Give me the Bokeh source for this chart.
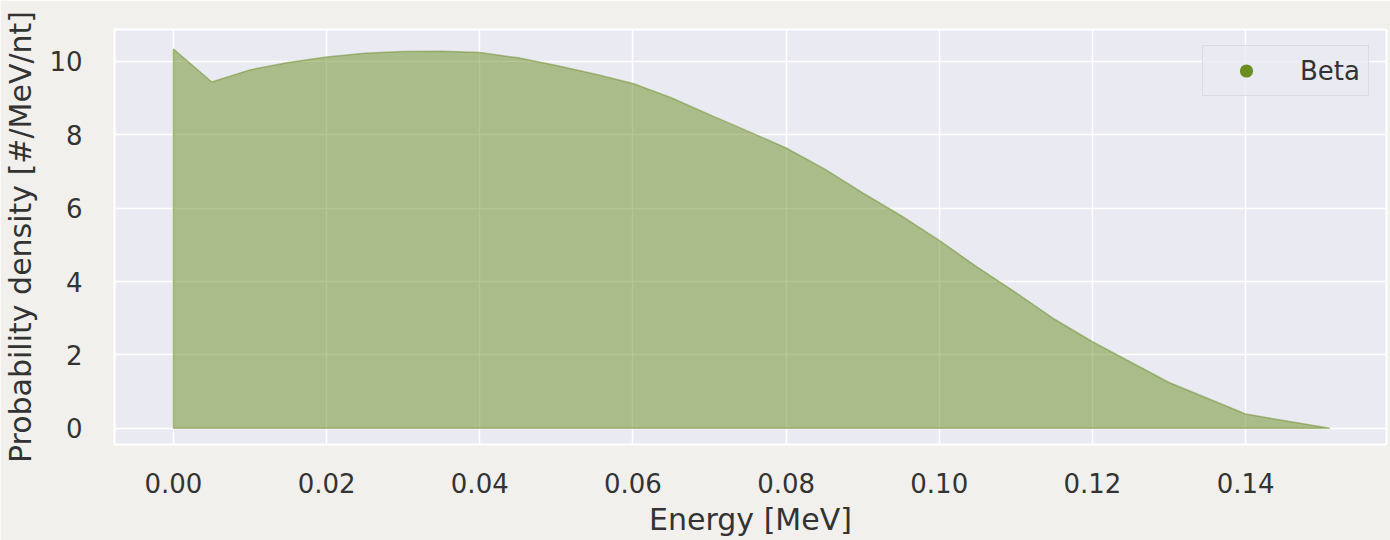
from bokeh.plotting import figure
from bokeh.models import (ColumnDataSource, FixedTicker, Range1d, Legend, LegendItem,
                          CustomJSTickFormatter)
from bokeh.embed import file_html
from bokeh.resources import INLINE

# ---- data ----
energy = [0.0, 0.005, 0.01, 0.015, 0.02, 0.025, 0.03, 0.035, 0.04, 0.045, 0.05,
          0.055, 0.06, 0.065, 0.07, 0.075, 0.08, 0.085, 0.09, 0.095, 0.10,
          0.105, 0.11, 0.115, 0.12, 0.13, 0.14, 0.151]
density = [10.34, 9.44, 9.77, 9.97, 10.12, 10.22, 10.27, 10.28, 10.24, 10.10, 9.89,
           9.66, 9.40, 9.01, 8.55, 8.10, 7.64, 7.07, 6.42, 5.80, 5.12,
           4.39, 3.70, 2.98, 2.36, 1.25, 0.39, 0.0]
x_ticks = [0.0, 0.02, 0.04, 0.06, 0.08, 0.10, 0.12, 0.14]
y_ticks = [0, 2, 4, 6, 8, 10]
series_name = "Beta"
x_label = "Energy [MeV]"
y_label = "Probability density [#/MeV/nt]"

FONT = "DejaVu Sans"
TEXT = "#333333"
GREEN = "#6B8E23"

p = figure(width=1390, height=540, output_backend="svg", toolbar_location=None,
           x_range=Range1d(-0.0077, 0.1584), y_range=Range1d(-0.44, 10.87),
           min_border_left=112, min_border_right=4, min_border_top=29, min_border_bottom=96)

p.background_fill_color = "#EAEAF2"
p.border_fill_color = "#F1F0EC"
p.outline_line_color = "white"
p.outline_line_width = 2

# polygon: area under the curve
poly_x = [energy[0]] + energy + [energy[-1]]
poly_y = [0.0] + density + [0.0]
src = ColumnDataSource(dict(x=poly_x, y=poly_y))
p.patch("x", "y", source=src, fill_color=GREEN, fill_alpha=0.5,
        line_color=GREEN, line_alpha=0.5, line_width=1.5)

# legend handle: circle markers of zero size on the data (invisible on the plot,
# the legend draws its own sized circle)
msrc = ColumnDataSource(dict(x=energy, y=density))
dummy = p.scatter("x", "y", source=msrc, marker="circle", size=0,
                  fill_color=GREEN, line_color=None)

# axes
for ax in (p.xaxis[0], p.yaxis[0]):
    ax.axis_line_color = None
    ax.major_tick_line_color = None
    ax.minor_tick_line_color = None
    ax.major_label_text_font = FONT
    ax.major_label_text_font_size = "26px"
    ax.major_label_text_color = TEXT
    ax.axis_label_text_font = FONT
    ax.axis_label_text_font_size = "30px"
    ax.axis_label_text_font_style = "normal"
    ax.axis_label_text_color = TEXT

p.xaxis.ticker = FixedTicker(ticks=x_ticks)
p.yaxis.ticker = FixedTicker(ticks=y_ticks)
p.xaxis.formatter = CustomJSTickFormatter(code="return tick.toFixed(2);")
p.yaxis.formatter = CustomJSTickFormatter(code="return tick.toFixed(0);")
p.xaxis.major_label_standoff = 22
p.yaxis.major_label_standoff = 26
p.xaxis.axis_label = x_label
p.yaxis.axis_label = y_label
p.xaxis.axis_label_standoff = 6
p.yaxis.axis_label_standoff = 8

p.xgrid.grid_line_color = "white"
p.ygrid.grid_line_color = "white"
p.xgrid.grid_line_width = 1.5
p.ygrid.grid_line_width = 1.5

legend = Legend(items=[LegendItem(label=series_name, renderers=[dummy])],
                location=(1088, 348))
legend.label_text_font = FONT
legend.label_text_font_size = "26px"
legend.label_text_color = TEXT
legend.glyph_width = 70
legend.glyph_height = 33
legend.label_standoff = 19
legend.padding = 8
legend.margin = 0
legend.background_fill_color = "#EAEAF2"
legend.background_fill_alpha = 0.8
legend.border_line_color = "#CCCCCC"
legend.border_line_width = 1.5
p.add_layout(legend, "center")

open("out.html", "w").write(file_html(p, INLINE))
